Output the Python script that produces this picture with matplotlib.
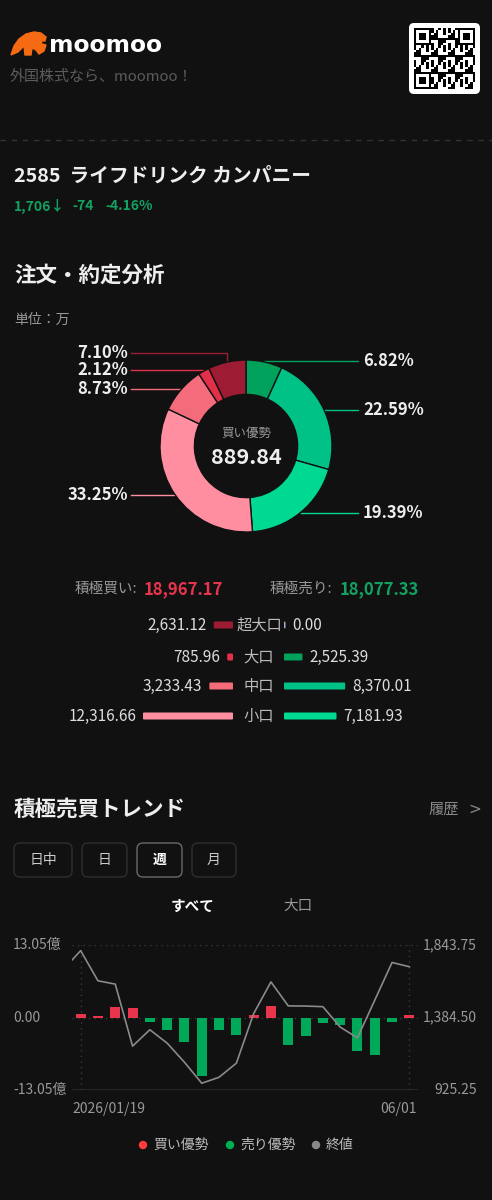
import numpy as np
import matplotlib
matplotlib.use("Agg")
import matplotlib.pyplot as plt
import pandas as pd
from matplotlib.patches import FancyBboxPatch, Rectangle, Polygon, Circle
from matplotlib.transforms import blended_transform_factory

plt.rcParams['font.family'] = ['Noto Sans CJK JP', 'DejaVu Sans']

# ---- data ----
ticker = "2585"
company = "ライフドリンク カンパニー"
last_price = "1,706"
change = "-74"
change_pct = "-4.16%"

size_names = ["超大口", "大口", "中口", "小口"]
buy_vals = [2631.12, 785.96, 3233.43, 12316.66]    # 万
sell_vals = [0.00, 2525.39, 8370.01, 7181.93]      # 万

week_start = "2026-01-19"
net_flow = [0.66, 0.36, 1.87, 1.63, -0.72, -2.17, -4.41, -10.57, -2.17, -3.14,
            0.48, 2.05, -4.95, -3.26, -0.91, -1.27, -6.10, -6.70, -0.79, 0.48]  # 億
prev_close = 1689.0
closes = [1808, 1617, 1596, 1203, 1307, 1222, 1101, 968, 1006, 1095,
          1409, 1610, 1458, 1457, 1453, 1324, 1256, 1494, 1733, 1706]
flow_lim = 13.05
price_lo, price_hi = 925.25, 1843.75

periods = ["日中", "日", "週", "月"]
tabs = ["すべて", "大口"]

# ---- colours ----
BG = "#111112"
RED = "#e8354d"
GREEN = "#12a160"
buy_colors = ["#9e1c33", "#e3304a", "#f46b7b", "#ff8fa0"]
sell_colors = ["#a0b4d0", "#00a15a", "#00c287", "#00d992"]

W, H = 492, 1200
fig = plt.figure(figsize=(W / 100, H / 100), dpi=100, facecolor=BG)
ax0 = fig.add_axes([0, 0, 1, 1])
ax0.set_xlim(0, W)
ax0.set_ylim(H, 0)
ax0.axis("off")
ax0.set_facecolor(BG)


def px_axes(x0, y0, x1, y1):
    return fig.add_axes([x0 / W, 1 - y1 / H, (x1 - x0) / W, (y1 - y0) / H])


def t(x, y, s, size, color="#dddddd", ha="left", weight="normal", **kw):
    ax0.text(x, y, s, fontsize=size, color=color, ha=ha, va="center",
             fontweight=weight, **kw)


# ---- header ----
bull = [(11, 55), (14, 46), (19, 39), (26, 34), (34, 32), (41, 33), (46, 37),
        (45, 41), (41, 41), (42, 44), (46, 45), (44, 51), (39, 54), (36, 50),
        (32, 48), (31, 55), (25, 55), (24, 46), (18, 52)]
ax0.add_patch(Polygon(bull, closed=True, color="#f56a12"))
t(49, 45, "moomoo", 16.8, "#ffffff", weight="bold", family="DejaVu Sans")
t(10, 77, "外国株式なら、moomoo！", 10.8, "#5c5c5c")

ax0.add_patch(FancyBboxPatch((409, 23), 71, 71, boxstyle="round,pad=0,rounding_size=5",
                             fc="white", ec="none"))
n = 25
cell = 61 / n
for i in range(n):
    for j in range(n):
        finder = (i < 7 and j < 7) or (i < 7 and j >= n - 7) or (i >= n - 7 and j < 7)
        if finder:
            di = i if i < 7 else i - (n - 7)
            dj = j if j < 7 else j - (n - 7)
            on = di in (0, 6) or dj in (0, 6) or (2 <= di <= 4 and 2 <= dj <= 4)
        else:
            on = ((i * i + 3 * j + i * j) % 7) < 3
        if on:
            ax0.add_patch(Rectangle((414 + j * cell, 28 + i * cell), cell, cell,
                                    fc="black", ec="none"))

ax0.plot([0, W], [140, 140], color="#333333", lw=1, ls=(0, (4, 4)))

t(14, 176, f"{ticker}  {company}", 14.2, "#eeeeee", weight="bold")
t(14, 206, last_price + "↓", 10, GREEN, weight="bold")
t(72, 206, change, 10, GREEN, weight="bold")
t(105, 206, change_pct, 10, GREEN, weight="bold")

t(14, 275, "注文・約定分析", 15.5, "#eeeeee", weight="bold")
t(14, 320, "単位：万", 10, "#999999")

# ---- donut ----
cx, cy, R = 246, 446, 86
vals = list(sell_vals) + list(buy_vals[::-1])
cols = list(sell_colors) + list(buy_colors[::-1])
total = sum(vals)
axd = px_axes(cx - R, cy - R, cx + R, cy + R)
axd.set_facecolor("none")
axd.pie(vals, colors=cols, startangle=90, counterclock=False, radius=1,
        wedgeprops=dict(width=0.4, edgecolor=BG, linewidth=1))
axd.set_xlim(-1, 1)
axd.set_ylim(-1, 1)
axd.set_aspect("equal")

cum = 0
items = []
for v, c in zip(vals, cols):
    a1 = 90 - 360 * cum / total
    cum += v
    a2 = 90 - 360 * cum / total
    if v <= 0:
        continue
    mid = np.radians((a1 + a2) / 2)
    axp, ayp = cx + (R + 1) * np.cos(mid), cy - (R + 1) * np.sin(mid)
    items.append([axp, ayp, c, f"{v / total * 100:.2f}%", ayp])

left = sorted([it for it in items if it[0] < cx], key=lambda it: -it[1])
prev = None
for it in left:
    if prev is not None:
        it[4] = min(it[4], prev - 17)
    prev = it[4]
right = sorted([it for it in items if it[0] >= cx], key=lambda it: it[1])
prev = None
for it in right:
    if prev is not None:
        it[4] = max(it[4], prev + 17)
    prev = it[4]

for axp, ayp, c, lab, ly in items:
    if axp < cx:
        ax0.plot([axp, axp, 131], [ayp, ly, ly], color=c, lw=1)
        t(128, ly, lab, 12, "#eeeeee", ha="right", weight="bold")
    else:
        ax0.plot([axp, axp, 358], [ayp, ly, ly], color=c, lw=1)
        t(363, ly, lab, 12, "#eeeeee", weight="bold")

net = sum(buy_vals) - sum(sell_vals)
t(cx, 433, "買い優勢" if net >= 0 else "売り優勢", 9, "#999999", ha="center")
t(cx, 457, f"{abs(net):,.2f}", 15.5, "#eeeeee", ha="center", weight="bold")

# ---- totals & size rows ----
t(75, 589, "積極買い:", 10.5, "#999999")
t(144, 589, f"{sum(buy_vals):,.2f}", 12, RED, weight="bold")
t(270, 589, "積極売り:", 10.5, "#999999")
t(340, 589, f"{sum(sell_vals):,.2f}", 12, GREEN, weight="bold")

scale = 90 / max(max(buy_vals), max(sell_vals))
row_y = [625, 657, 686, 716]
for name, b, s, bc, sc, y in zip(size_names, buy_vals, sell_vals, buy_colors, sell_colors, row_y):
    bw = max(b * scale, 1.5)
    sw = max(s * scale, 1.5)
    ax0.add_patch(FancyBboxPatch((233 - bw, y - 3.5), bw, 7,
                                 boxstyle="round,pad=0,rounding_size=1", fc=bc, ec="none"))
    ax0.add_patch(FancyBboxPatch((284, y - 3.5), sw, 7,
                                 boxstyle="round,pad=0,rounding_size=1", fc=sc, ec="none"))
    t(259, y, name, 11, "#bbbbbb", ha="center")
    t(233 - bw - 7, y, f"{b:,.2f}", 11, "#dddddd", ha="right")
    t(284 + sw + 7, y, f"{s:,.2f}", 11, "#dddddd")

# ---- trend section ----
t(14, 809, "積極売買トレンド", 15.5, "#eeeeee", weight="bold")
t(459, 809, "履歴", 11, "#888888", ha="right")
t(475, 809, ">", 11, "#888888", ha="center", family="DejaVu Sans")

btn_x = [(14, 72), (82, 127), (137, 182), (192, 236)]
for p, (x0, x1) in zip(periods, btn_x):
    sel = p == "週"
    ax0.add_patch(FancyBboxPatch((x0, 843), x1 - x0, 34, boxstyle="round,pad=0,rounding_size=6",
                                 fc=BG, ec="#6a6a6a" if sel else "#2e2e2e", lw=1))
    t((x0 + x1) / 2, 860, p, 10, "#ffffff" if sel else "#cccccc", ha="center",
      weight="bold" if sel else "normal")
t(193, 906, tabs[0], 10.5, "#ffffff", ha="center", weight="bold")
t(298, 906, tabs[1], 10.5, "#999999", ha="center")

# ---- trend chart ----
weeks = pd.date_range(week_start, periods=len(net_flow), freq="7D")
x = np.arange(len(net_flow))
ax = px_axes(72, 945, 418, 1090)
ax.set_facecolor("none")
ax.bar(x, net_flow, width=0.58, color=[RED if v >= 0 else "#00a85a" for v in net_flow], zorder=2)
ax.set_xlim(-0.5, len(net_flow) - 0.5)
ax.set_ylim(-flow_lim, flow_lim)
dot = (0, (1, 3))
ax.axhline(flow_lim, color="#3a3a3a", lw=1, ls=dot, zorder=1)
ax.axhline(0, color="#3a3a3a", lw=1, ls=dot, zorder=1)
ax.axhline(-flow_lim, color="#2c2c2c", lw=1.2, zorder=1)
ax.axvline(x[0], color="#3a3a3a", lw=1, ls=dot, zorder=1)
ax.axvline(x[-1], color="#3a3a3a", lw=1, ls=dot, zorder=1)
for sp in ax.spines.values():
    sp.set_visible(False)
ax.set_xticks([])
ax.set_yticks([])

ax2 = ax.twinx()
ax2.plot(np.arange(-1, len(closes)), [prev_close] + closes, color="#8a8a8a", lw=1.2)
ax2.set_ylim(price_lo, price_hi)
ax2.set_xlim(-0.5, len(net_flow) - 0.5)
for sp in ax2.spines.values():
    sp.set_visible(False)
ax2.set_yticks([])

tl = blended_transform_factory(ax0.transData, ax.transData)
for v, s in [(flow_lim, f"{flow_lim:.2f}億"), (0, "0.00"), (-flow_lim, f"{-flow_lim:.2f}億")]:
    ax0.text(13, v, s, transform=tl, fontsize=10, color="#999999", va="center")
tr = blended_transform_factory(ax0.transData, ax2.transData)
for v in [price_hi, (price_hi + price_lo) / 2, price_lo]:
    ax0.text(477, v, f"{v:,.2f}", transform=tr, fontsize=10, color="#999999",
             va="center", ha="right")
t(72, 1109, weeks[0].strftime("%Y/%m/%d"), 10, "#999999")
t(417, 1109, weeks[-1].strftime("%m/%d"), 10, "#999999", ha="right")

# ---- legend ----
for (dx, lab, c) in [(143, "買い優勢", "#ff3b3b"), (230, "売り優勢", "#00b050"), (316, "終値", "#888888")]:
    ax0.add_patch(Circle((dx, 1145), 3.5, color=c))
    t(dx + 10, 1145, lab, 10, "#bbbbbb")

fig.savefig("out.png", dpi=100, facecolor=BG)
